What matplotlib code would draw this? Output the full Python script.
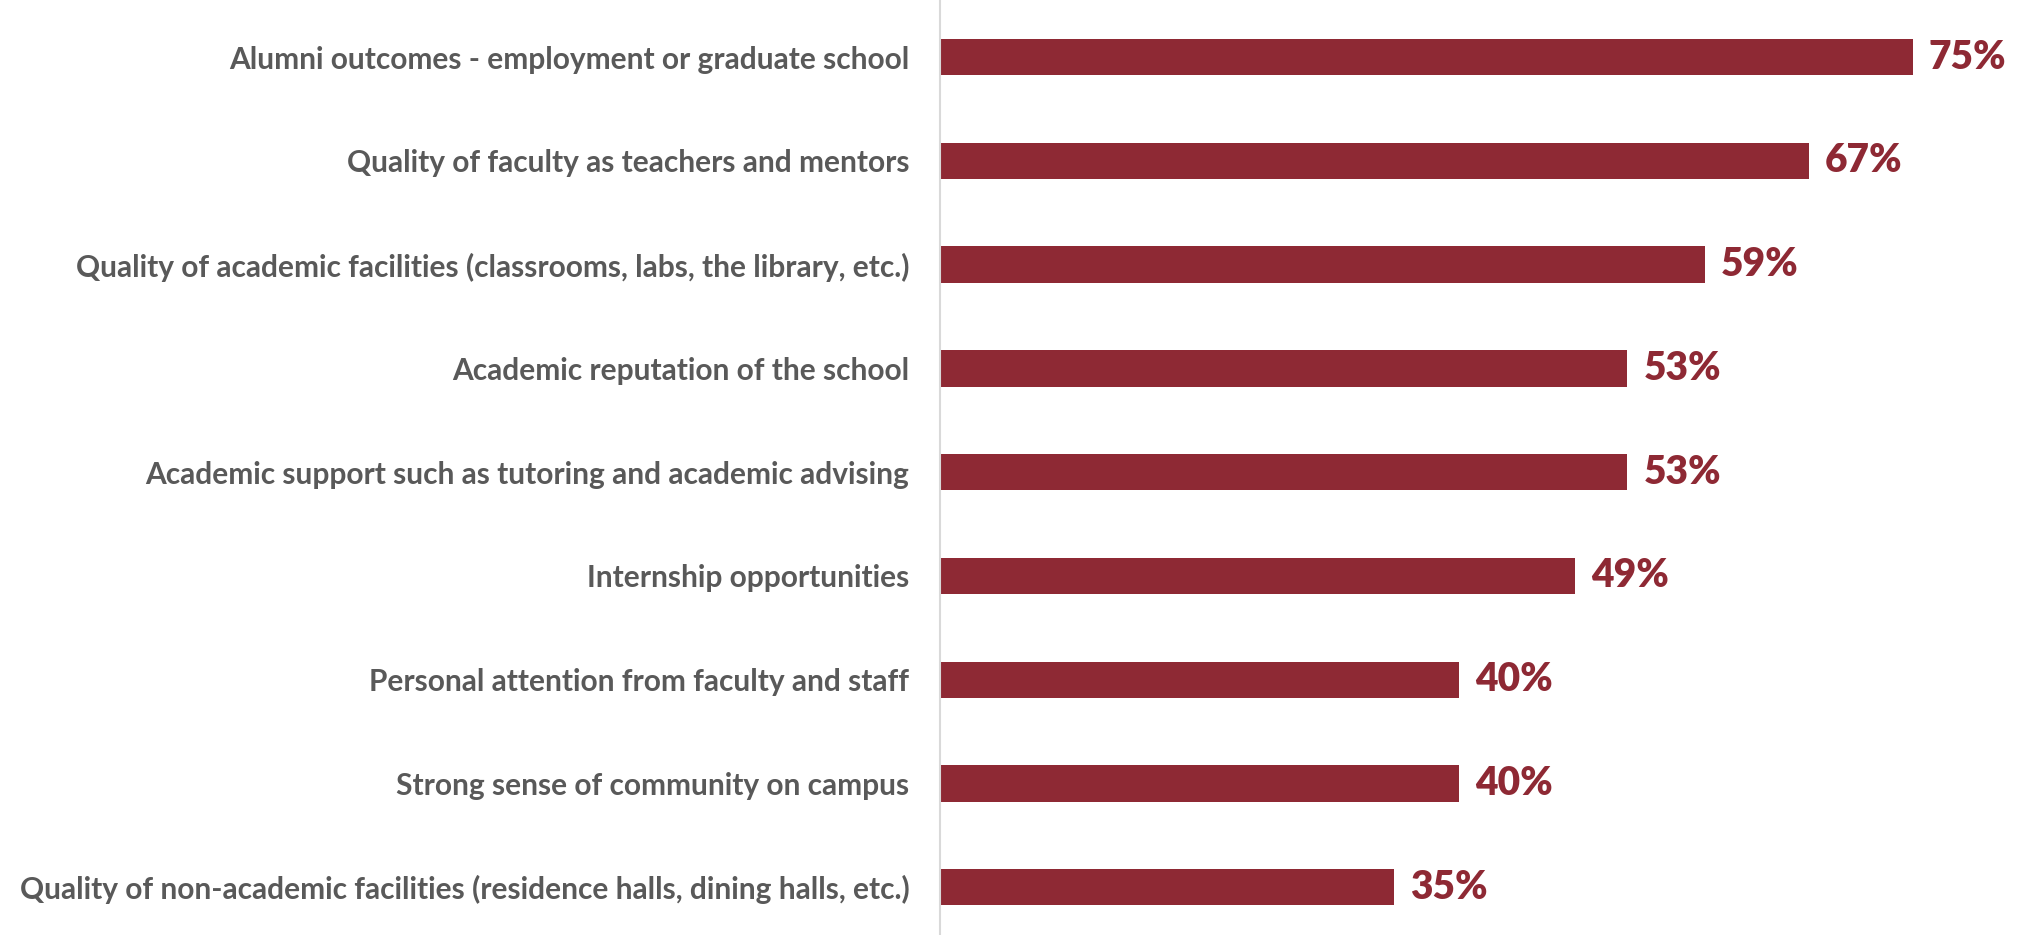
import matplotlib.pyplot as plt

# Share of respondents rating each factor as very important
factors = [
    "Alumni outcomes - employment or graduate school",
    "Quality of faculty as teachers and mentors",
    "Quality of academic facilities (classrooms, labs, the library, etc.)",
    "Academic reputation of the school",
    "Academic support such as tutoring and academic advising",
    "Internship opportunities",
    "Personal attention from faculty and staff",
    "Strong sense of community on campus",
    "Quality of non-academic facilities (residence halls, dining halls, etc.)",
]
shares = [75, 67, 59, 53, 53, 49, 40, 40, 35]

bar_color = "#8E2934"
label_color = "#595959"

plt.rcParams["font.family"] = ["Lato", "DejaVu Sans"]

fig = plt.figure(figsize=(20.19, 9.35), dpi=100)
ax = fig.add_axes([940 / 2019, 0, 1 - 940 / 2019, 1])

pos = list(range(len(factors)))
ax.barh(pos, shares, height=0.35, color=bar_color)

ax.set_xlim(0, 83.2)
ax.set_ylim(len(factors) - 1 + 0.46, -0.55)

ax.set_yticks(pos)
ax.set_yticklabels(factors, fontsize=21.5, fontweight="bold", color=label_color)
ax.tick_params(axis="y", length=0, pad=22)
ax.set_xticks([])

for s in ["top", "right", "bottom"]:
    ax.spines[s].set_visible(False)
ax.spines["left"].set_color("#D9D9D9")
ax.spines["left"].set_linewidth(1.5)

# value labels at bar ends
for p, v in zip(pos, shares):
    ax.annotate(f"{v}%", xy=(v, p), xytext=(16, 0), textcoords="offset pixels",
                va="center", ha="left", fontsize=28, fontweight="heavy",
                color=bar_color)

fig.savefig("out.png", dpi=100)
